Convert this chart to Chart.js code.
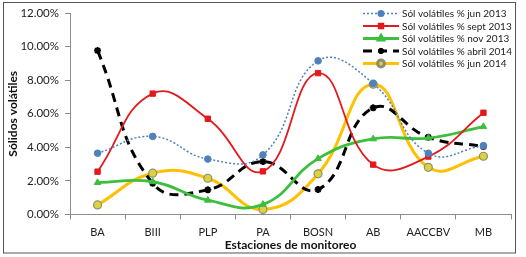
<!DOCTYPE html>
<html>
<head>
<meta charset="utf-8">
<script src="https://cdn.jsdelivr.net/npm/chart.js@4"></script>
<style>
html,body{margin:0;padding:0;background:#fff;}
canvas{display:block;}
</style>
</head>
<body>
<canvas id="chart" width="526" height="257"></canvas>
<script>

// categories + series (values in %)
let estaciones = ["BA","BIII","PLP","PA","BOSN","AB","AACCBV","MB"];

let jun2013   = [3.65, 4.65, 3.30, 3.55, 9.15, 7.80, 3.65, 4.10];
let sept2013  = [2.55, 7.20, 5.70, 2.57, 8.42, 2.97, 3.45, 6.06];
let nov2013   = [1.90, 1.95, 0.85, 0.60, 3.33, 4.50, 4.55, 5.23];
let abril2014 = [9.76, 1.86, 1.47, 3.15, 1.49, 6.35, 4.60, 4.05];
let jun2014   = [0.57, 2.46, 2.16, 0.30, 2.42, 7.76, 2.81, 3.47];

let yTicks = [0, 2, 4, 6, 8, 10, 12];

let FONT = "Lato, 'Open Sans', sans-serif";

/* legend drawn inside the plot, top right, like excel */
const legendPlugin = {
id:'excelLegend',
afterDraw:function(chart){
let ctx = chart.ctx;
let x0 = 363, x1 = 399, tx = 402;
let y = 13.5;
ctx.save();
chart.data.datasets.forEach(function(ds){
ctx.strokeStyle = ds.borderColor;
ctx.lineWidth = ds.borderWidth;
ctx.setLineDash(ds.borderDash || []);
ctx.beginPath();
ctx.moveTo(x0,y);
ctx.lineTo(x1,y);
ctx.stroke();
ctx.setLineDash([]);
ctx.fillStyle = ds.pointBackgroundColor;
ctx.strokeStyle = ds.pointBorderColor;
Chart.helpers.drawPoint(ctx,{
pointStyle:ds.pointStyle,
radius:ds.pointRadius*0.85,
borderWidth:ds.pointBorderWidth,
rotation:0
},(x0+x1)/2,y);
ctx.fillStyle = "#222";
ctx.font = "10px " + FONT;
ctx.textBaseline = "middle";
ctx.textAlign = "left";
ctx.fillText(ds.label,tx,y+0.5);
y += 12.5;
});
ctx.restore();
}
};

const framePlugin = {
id:'frame',
beforeDraw:function(chart){
let ctx = chart.ctx;
ctx.save();
ctx.fillStyle = "#fff";
ctx.fillRect(0,0,chart.width,chart.height);
ctx.restore();
},
afterDraw:function(chart){
let ctx = chart.ctx;
ctx.save();
ctx.strokeStyle = "#555";
ctx.lineWidth = 1;
ctx.strokeRect(3.5,2.5,512,250.5);
ctx.restore();
}
};

function serie(label,data,color,style){
return Object.assign({
label:label,
data:data,
borderColor:color,
backgroundColor:color,
pointBackgroundColor:color,
pointBorderColor:color,
pointBorderWidth:1,
fill:false,
tension:0.45
},style);
}

new Chart(document.getElementById("chart"),{
type:'line',
data:{
labels:estaciones,
datasets:[
serie("Sól volátiles % jun 2013",jun2013,"#4F81BD",{borderWidth:1.5,borderDash:[2,2],pointStyle:'circle',pointRadius:3.3}),
serie("Sól volátiles % sept 2013",sept2013,"#E3191C",{borderWidth:1.8,pointStyle:'rect',pointRadius:3.8}),
serie("Sól volátiles % nov 2013",nov2013,"#3CBF3C",{borderWidth:2.8,pointStyle:'triangle',pointRadius:3.8}),
serie("Sól volátiles % abril 2014",abril2014,"#000000",{borderWidth:3,borderDash:[9,6],pointStyle:'star',pointRadius:3.5,pointBorderWidth:2}),
serie("Sól volátiles % jun 2014",jun2014,"#FFC000",{borderWidth:3,pointStyle:'circle',pointRadius:4,pointBackgroundColor:"#DCD23C",pointBorderColor:"#8C8C78",pointBorderWidth:1.2})
]
},
plugins:[framePlugin,legendPlugin],
options:{
responsive:false,
animation:false,
devicePixelRatio:1,
layout:{padding:{left:4,right:15,top:13,bottom:4}},
plugins:{
legend:{display:false},
tooltip:{enabled:false}
},
scales:{
x:{
offset:true,
grid:{
display:true,
drawOnChartArea:false,
offset:true,
tickLength:5,
color:"#8c8c8c"
},
border:{color:"#8c8c8c",width:1},
ticks:{
color:"#222",
padding:6,
font:{family:FONT,size:11}
},
title:{
display:true,
text:"Estaciones de monitoreo",
color:"#111",
padding:{top:0,bottom:1},
font:{family:FONT,size:12,weight:'bold'}
},
afterFit:function(scale){ scale.height = 38.5; }
},
y:{
min:0,
max:12,
afterBuildTicks:function(scale){
scale.ticks = yTicks.map(function(v){ return {value:v}; });
},
grid:{
display:true,
drawOnChartArea:false,
tickLength:5,
color:"#8c8c8c"
},
border:{color:"#8c8c8c",width:1},
ticks:{
color:"#222",
padding:6,
font:{family:FONT,size:11.5},
callback:function(value){
return value.toFixed(2)+"%";
}
},
title:{
display:true,
text:"Sólidos volátiles",
color:"#111",
padding:{top:2,bottom:0},
font:{family:FONT,size:12,weight:'bold'}
},
afterFit:function(scale){ scale.width = 66; }
}
}
}
});

</script>
</body>
</html>
